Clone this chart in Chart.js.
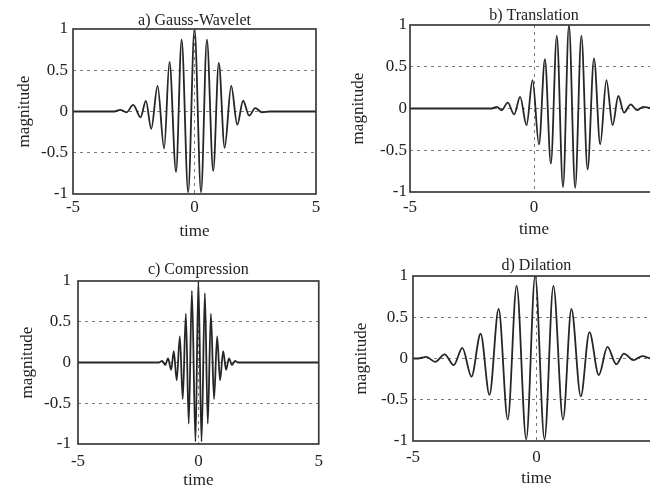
<!DOCTYPE html>
<html>
<head>
<meta charset="utf-8">
<script src="https://cdn.jsdelivr.net/npm/chart.js@4.4.1/dist/chart.umd.min.js"></script>
<style>
  body { margin: 0; width: 650px; height: 488px; overflow: hidden; background: #fff; position: relative; }
  canvas { position: absolute; }
</style>
</head>
<body>
<canvas id="gauss" width="330" height="245" style="left:0;top:0"></canvas>
<canvas id="trans" width="340" height="245" style="left:330px;top:0"></canvas>
<canvas id="comp" width="330" height="250" style="left:0;top:245px"></canvas>
<canvas id="dil" width="340" height="250" style="left:330px;top:245px"></canvas>
<script>
// values (peaks / troughs of each wavelet)
let gaussT = [-5, -3.3, -3.05, -2.8, -2.52, -2.22, -2.0, -1.78, -1.52, -1.25, -1.03, -0.76, -0.53, -0.26, 0, 0.27, 0.51, 0.77, 1.0, 1.24, 1.51, 1.76, 2.0, 2.25, 2.5, 2.78, 3.1, 5];
let gaussV = [0, 0, 0.02, -0.01, 0.08, -0.07, 0.13, -0.21, 0.31, -0.45, 0.6, -0.73, 0.87, -0.98, 1.0, -0.98, 0.87, -0.72, 0.59, -0.44, 0.31, -0.16, 0.13, -0.05, 0.04, -0.01, 0, 0];

let transT = [-5, -1.7, -1.5, -1.3, -1.06, -0.8, -0.56, -0.3, -0.06, 0.2, 0.44, 0.68, 0.92, 1.17, 1.41, 1.66, 1.91, 2.16, 2.42, 2.67, 2.92, 3.17, 3.4, 3.63, 3.9, 4.15, 4.4, 4.8, 5];
let transV = [0, 0, 0.02, -0.02, 0.07, -0.07, 0.14, -0.2, 0.34, -0.43, 0.59, -0.66, 0.87, -0.94, 1.0, -0.95, 0.87, -0.73, 0.6, -0.43, 0.34, -0.2, 0.15, -0.05, 0.05, -0.02, 0.02, 0, 0];

let compT = [-5, -1.65, -1.5, -1.38, -1.26, -1.13, -1.02, -0.9, -0.77, -0.65, -0.52, -0.4, -0.27, -0.12, 0, 0.13, 0.27, 0.39, 0.52, 0.65, 0.78, 0.9, 1.03, 1.15, 1.27, 1.4, 1.52, 1.65, 5];
let compV = [0, 0, 0.02, -0.03, 0.05, -0.09, 0.14, -0.22, 0.32, -0.45, 0.6, -0.75, 0.88, -0.97, 1.0, -0.97, 0.85, -0.75, 0.6, -0.45, 0.32, -0.22, 0.14, -0.09, 0.05, -0.03, 0.02, 0, 0];

let dilT = [-5, -4.8, -4.46, -4.1, -3.72, -3.35, -3.0, -2.63, -2.26, -1.9, -1.53, -1.16, -0.8, -0.41, -0.05, 0.33, 0.69, 1.08, 1.42, 1.8, 2.15, 2.53, 2.88, 3.24, 3.55, 3.93, 4.3, 4.65, 5];
let dilV = [0, 0, 0.02, -0.04, 0.05, -0.08, 0.13, -0.22, 0.3, -0.44, 0.6, -0.74, 0.88, -0.98, 1.0, -0.98, 0.88, -0.74, 0.6, -0.46, 0.32, -0.2, 0.14, -0.07, 0.06, -0.02, 0.03, 0, 0];

let xTicks = [-5, 0, 5];
let yTicks = [-1, -0.5, 0, 0.5, 1];

const serif = 'Liberation Serif';
const ink = '#222';

// full box round the plot area, like the old Matlab frame
const framePlugin = {
  id: 'frame',
  afterDatasetsDraw(chart) {
    const { ctx, chartArea: a } = chart;
    ctx.save();
    ctx.strokeStyle = '#3a3a3a';
    ctx.lineWidth = 1.7;
    ctx.strokeRect(a.left, a.top, a.right - a.left, a.bottom - a.top);
    ctx.restore();
  }
};

function dotted(values) {
  return function (c) {
    return (c.tick && values.includes(c.tick.value)) ? '#7a7a7a' : 'rgba(0,0,0,0)';
  };
}

function makePanel(id, title, t, v, lay) {
  let points = t.map((x, i) => ({ x: x, y: v[i] }));
  new Chart(document.getElementById(id), {
    type: 'line',
    data: {
      datasets: [{
        data: points,
        borderColor: '#262626',
        borderWidth: 1.8,
        pointRadius: 0,
        cubicInterpolationMode: 'monotone',
        fill: false
      }]
    },
    plugins: [framePlugin],
    options: {
      responsive: false,
      animation: false,
      devicePixelRatio: 1,
      locale: 'en-US',
      layout: { padding: { top: lay.padTop, right: lay.padRight, left: 0, bottom: 0 } },
      plugins: {
        legend: { display: false },
        tooltip: { enabled: false },
        title: {
          display: true,
          text: title,
          fullSize: false,
          color: ink,
          font: { family: serif, size: 16, weight: 'normal', lineHeight: 1 },
          padding: { top: 0, bottom: lay.titlePad }
        }
      },
      scales: {
        x: {
          type: 'linear',
          min: -5,
          max: 5,
          afterBuildTicks: s => { s.ticks = xTicks.map(val => ({ value: val })); },
          afterFit: s => { s.height = lay.xHeight; },
          grid: { color: dotted([0]), drawTicks: false, lineWidth: 1 },
          border: { display: false, dash: [3, 4] },
          ticks: { color: ink, padding: lay.xTickPad, maxRotation: 0, font: { family: serif, size: 17 }, callback: val => String(val) },
          title: { display: true, text: 'time', color: ink, font: { family: serif, size: 17 }, padding: { top: 0, bottom: lay.xTitlePad } }
        },
        y: {
          min: -1,
          max: 1,
          afterBuildTicks: s => { s.ticks = yTicks.map(val => ({ value: val })); },
          afterFit: s => { s.width = lay.yWidth; },
          grid: { color: dotted([-0.5, 0, 0.5]), drawTicks: false, lineWidth: 1 },
          border: { display: false, dash: [3, 4] },
          ticks: { color: ink, padding: lay.yTickPad, font: { family: serif, size: 17 }, callback: val => String(val) },
          title: { display: true, text: 'magnitude', color: ink, font: { family: serif, size: 17 }, padding: { top: lay.yTitlePad, bottom: 0 } }
        }
      }
    }
  });
}

makePanel('gauss', 'a) Gauss-Wavelet', gaussT, gaussV,
  { yWidth: 73, xHeight: 51, padTop: 13, padRight: 14, titlePad: 0, xTickPad: 3, xTitlePad: 3, yTickPad: 5, yTitlePad: 14 });
makePanel('trans', 'b) Translation', transT, transV,
  { yWidth: 80, xHeight: 53, padTop: 8, padRight: 12, titlePad: 1, xTickPad: 5, xTitlePad: 5, yTickPad: 3, yTitlePad: 18 });
makePanel('comp', 'c) Compression', compT, compV,
  { yWidth: 78, xHeight: 51, padTop: 17, padRight: 8, titlePad: 3, xTickPad: 7, xTitlePad: 4, yTickPad: 7, yTitlePad: 17 });
makePanel('dil', 'd) Dilation', dilT, dilV,
  { yWidth: 83, xHeight: 54, padTop: 13, padRight: 9, titlePad: 2, xTickPad: 6, xTitlePad: 6, yTickPad: 5, yTitlePad: 21 });
</script>
</body>
</html>
